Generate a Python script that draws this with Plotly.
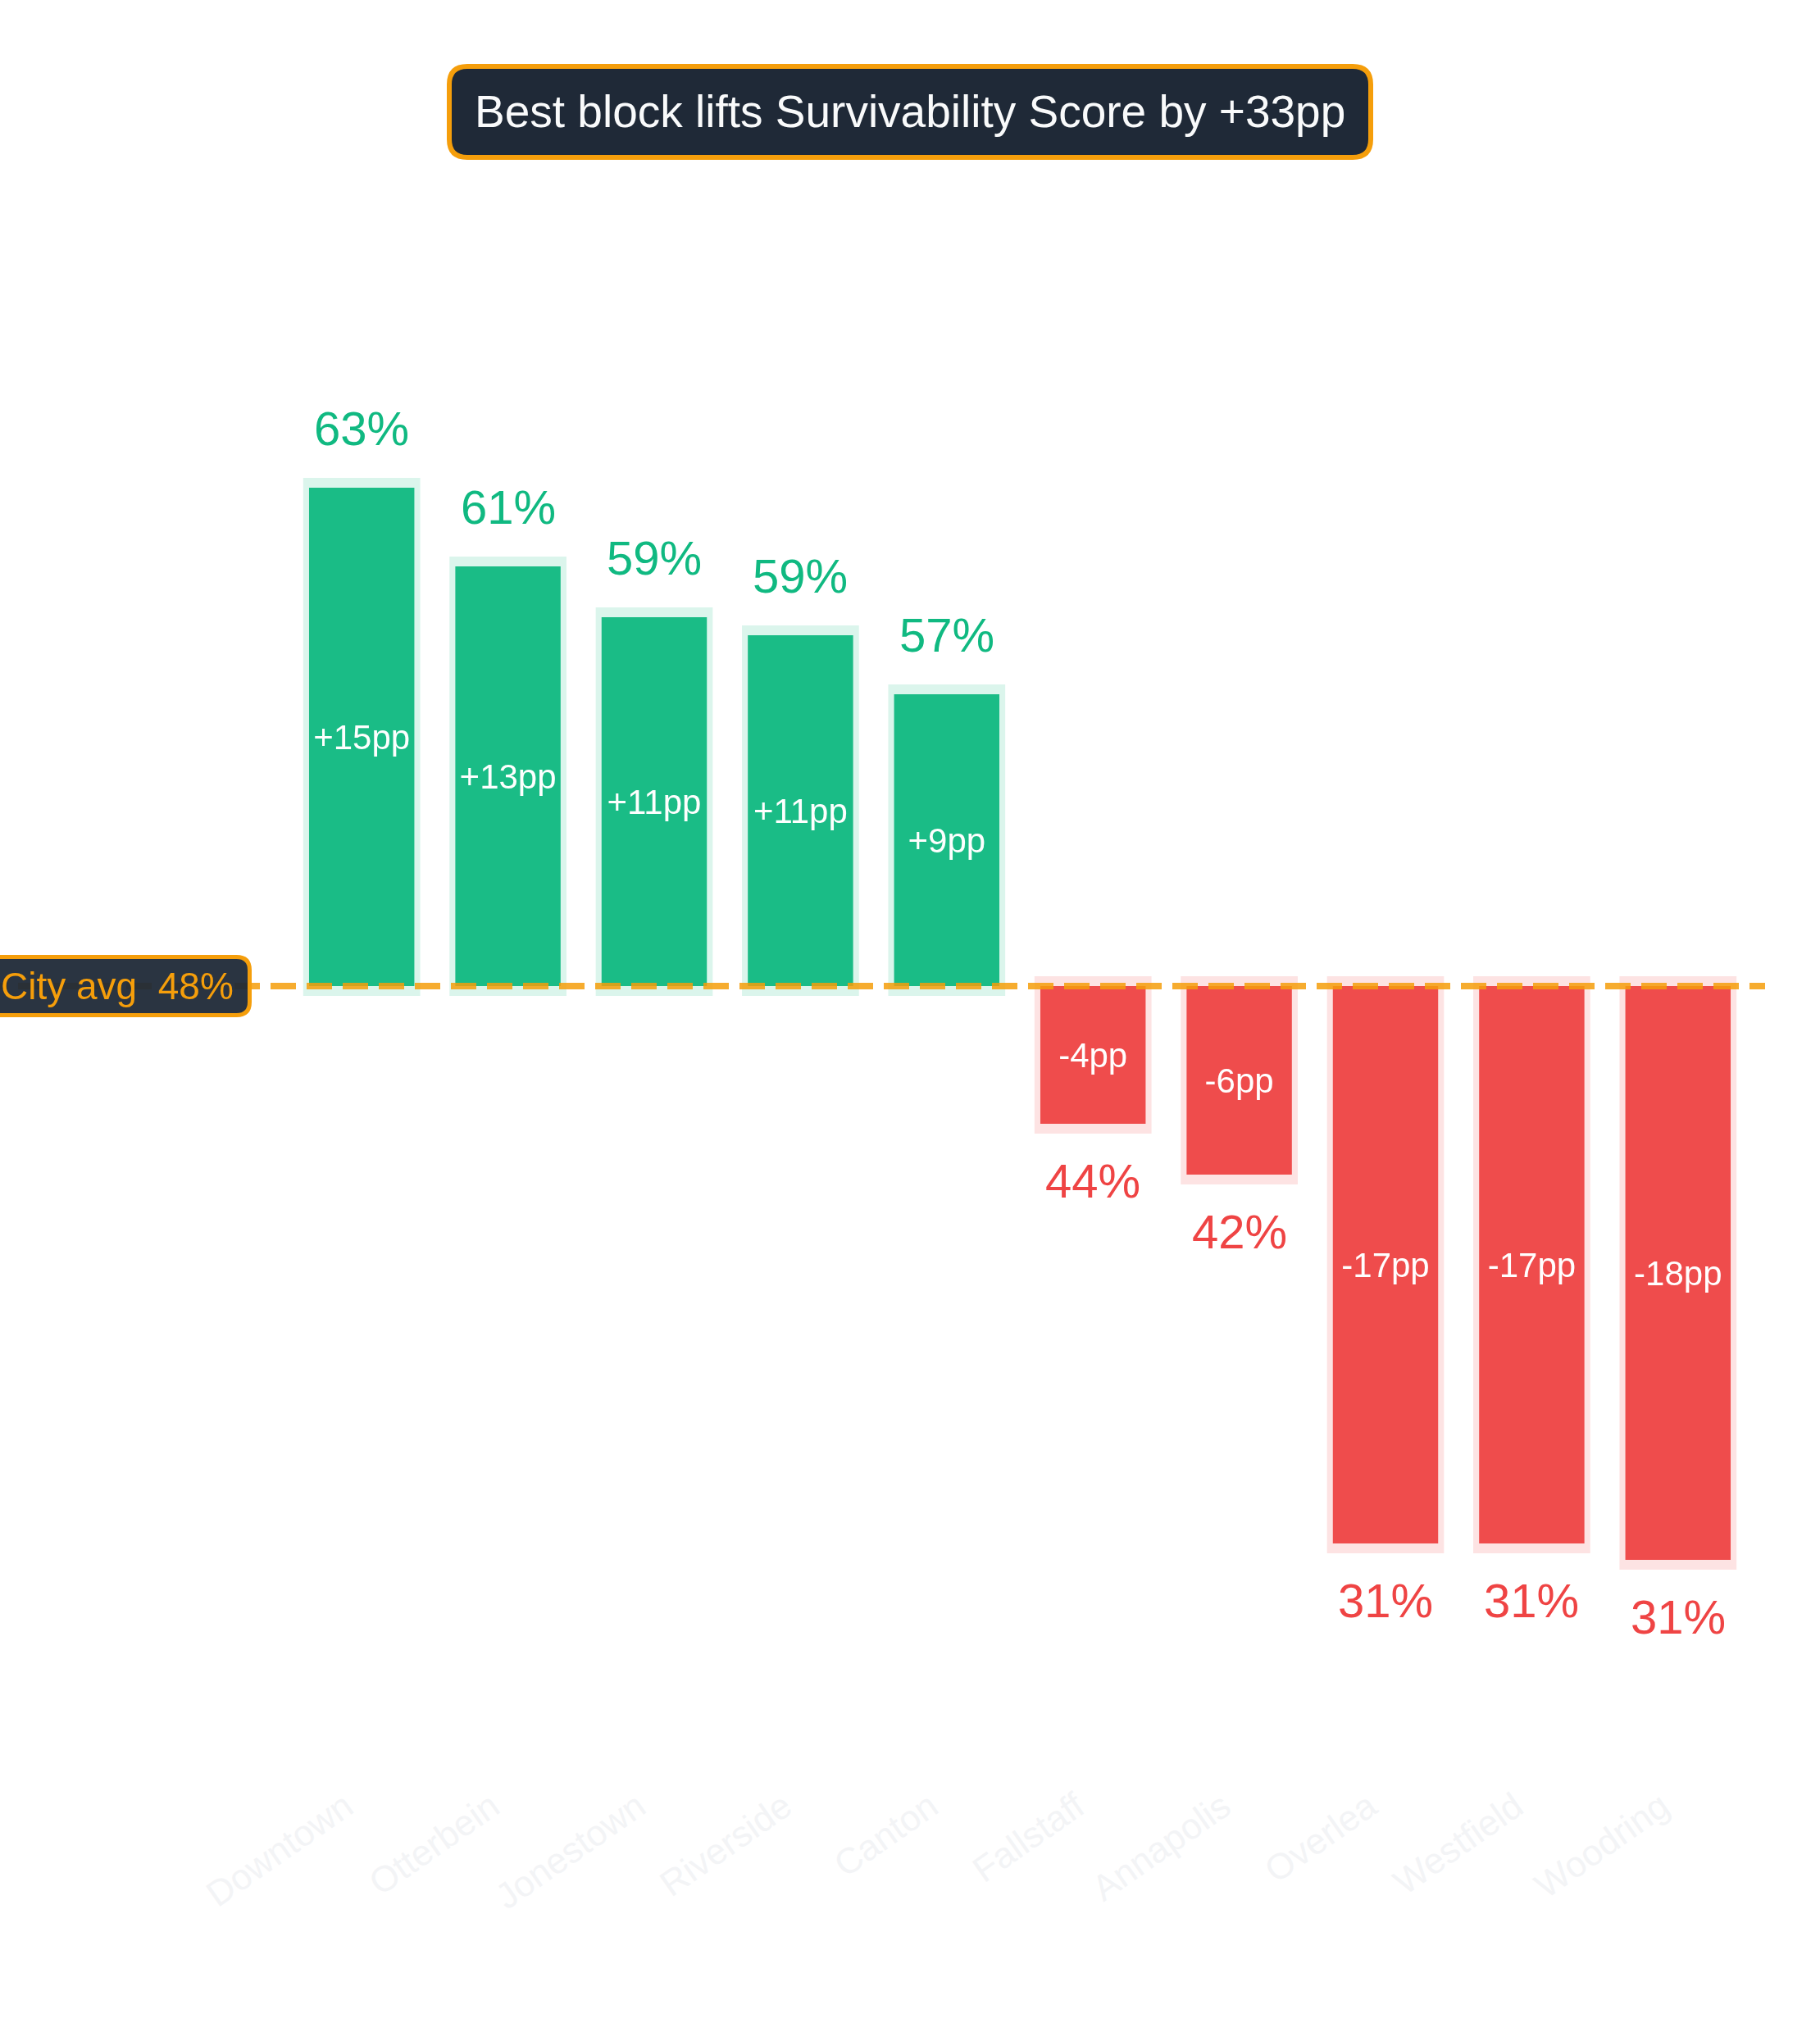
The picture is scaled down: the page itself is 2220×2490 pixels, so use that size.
import plotly.graph_objects as go

# ---------------- data ----------------
neighborhoods = ["Downtown", "Otterbein", "Jonestown", "Riverside", "Canton",
                 "Fallstaff", "Annapolis", "Overlea", "Westfield", "Woodring"]
scores = [63.4, 61.0, 59.45, 58.9, 57.1, 44.0, 42.45, 31.2, 31.2, 30.7]
city_avg = 48.2

# ---------------- derived ----------------
devs = [s - city_avg for s in scores]
signs = [1 if d >= 0 else -1 for d in devs]
pp_labels = [f"{d:+.0f}pp" for d in devs]
pct_labels = [f"{s:.0f}%" for s in scores]
lift = max(scores) - min(scores)

GREEN = "#10b981"
RED = "#ef4444"
ORANGE = "#f59e0b"
DARK = "#1f2937"
FONT = "Liberation Sans, Arial, Helvetica, sans-serif"

FIG_W, FIG_H = 2220, 2490
L, R, T, B = 352, 84, 300, 315
W = FIG_W - L - R
H = FIG_H - T - B


def px_x(px):
    return (px - L) / W


def px_y(py):
    return (T + H - py) / H


def rrect(x0, y0, x1, y1, r):
    def p(x, y):
        return f"{px_x(x):.6f},{px_y(y):.6f}"
    pts = [
        f"M {p(x0 + r, y0)}",
        f"L {p(x1 - r, y0)}",
        f"Q {p(x1, y0)} {p(x1, y0 + r)}",
        f"L {p(x1, y1 - r)}",
        f"Q {p(x1, y1)} {p(x1 - r, y1)}",
        f"L {p(x0 + r, y1)}",
        f"Q {p(x0, y1)} {p(x0, y1 - r)}",
        f"L {p(x0, y0 + r)}",
        f"Q {p(x0, y0)} {p(x0 + r, y0)}",
        "Z",
    ]
    return " ".join(pts)


HALO_PAD = 0.3
halo_y = [d + s * 2 * HALO_PAD for d, s in zip(devs, signs)]
halo_base = [-s * HALO_PAD for s in signs]
halo_colors = ["rgba(16,185,129,0.15)" if s > 0 else "rgba(239,68,68,0.15)" for s in signs]
bar_colors = [GREEN if s > 0 else RED for s in signs]

fig = go.Figure()
fig.add_trace(go.Bar(
    x=neighborhoods, y=halo_y, base=halo_base, width=0.8,
    marker=dict(color=halo_colors, line=dict(width=0)),
    hoverinfo="skip", showlegend=False,
))
fig.add_trace(go.Bar(
    x=neighborhoods, y=devs, width=0.72,
    marker=dict(color=bar_colors, line=dict(width=0)), opacity=0.95,
    text=pp_labels, textposition="inside", insidetextanchor="middle",
    textangle=0, constraintext="none",
    textfont=dict(family=FONT, size=42, color="white"),
    showlegend=False,
))

annotations = []
for name, d, s, lab in zip(neighborhoods, devs, signs, pct_labels):
    annotations.append(dict(
        x=name, y=d, xref="x", yref="y", text=lab, showarrow=False,
        yanchor="bottom" if s > 0 else "top",
        yshift=38 if s > 0 else -35,
        font=dict(family=FONT, size=58, color=GREEN if s > 0 else RED),
    ))

annotations.append(dict(
    x=px_x(1110), y=px_y(136), xref="paper", yref="paper",
    text=f"Best block lifts Survivability Score by +{lift:.0f}pp",
    showarrow=False, xanchor="center", yanchor="middle",
    font=dict(family=FONT, size=55, color="#f9fafb"),
))
annotations.append(dict(
    x=px_x(287), y=0, xref="paper", yref="y",
    text=f"City avg\u00a0 {city_avg:.0f}%",
    showarrow=False, xanchor="right", yanchor="middle",
    font=dict(family=FONT, size=46, color=ORANGE),
))

shapes = [
    dict(type="line", xref="paper", yref="y", x0=px_x(-22), x1=px_x(2153), y0=0, y1=0,
         line=dict(color="rgba(245,158,11,0.85)", width=8, dash="31px,13px"), layer="above"),
    dict(type="path", xref="paper", yref="paper", path=rrect(-30, 1167.5, 304.5, 1238.5, 16),
         fillcolor="rgba(31,41,55,0.95)", line=dict(color=ORANGE, width=5), layer="above"),
    dict(type="path", xref="paper", yref="paper", path=rrect(548, 81, 1672, 192, 22),
         fillcolor=DARK, line=dict(color=ORANGE, width=6), layer="above"),
]

fig.update_layout(
    width=FIG_W, height=FIG_H,
    margin=dict(l=L, r=R, t=T, b=B),
    paper_bgcolor="white", plot_bgcolor="white",
    barmode="overlay", bargap=0.2,
    showlegend=False,
    font=dict(family=FONT),
    annotations=annotations,
    shapes=shapes,
    xaxis=dict(type="category", range=[-0.5, 9.5], tickangle=-35,
               tickfont=dict(family=FONT, size=44, color="#f3f4f6"),
               ticklabelshift=-20, ticklabelstandoff=-6,
               showgrid=False, zeroline=False, showline=False, ticks=""),
    yaxis=dict(range=[-24.3, 22.575], visible=False, showgrid=False, zeroline=False),
)

fig.write_html("out.html")
